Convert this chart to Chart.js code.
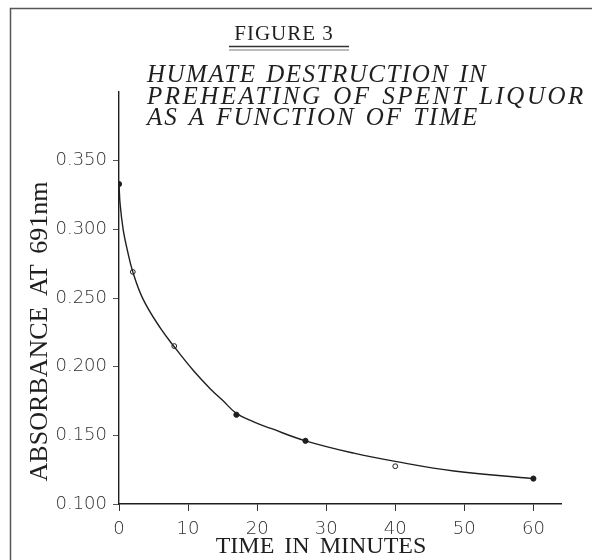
<!DOCTYPE html>
<html>
<head>
<meta charset="utf-8">
<script src="https://cdn.jsdelivr.net/npm/chart.js@4/dist/chart.umd.min.js"></script>
<style>
  html, body { margin: 0; padding: 0; background: #fff; }
  #wrap { width: 592px; height: 560px; position: relative; }
</style>
</head>
<body>
<div id="wrap"><canvas id="c"></canvas></div>
<script>
// ---- data ----
const figureLabel = 'FIGURE 3';
const titleLines = ['HUMATE DESTRUCTION IN', 'PREHEATING OF SPENT LIQUOR', 'AS A FUNCTION OF TIME'];
const xTitle = 'TIME IN MINUTES';
const yTitle = 'ABSORBANCE AT 691nm';

const xTickValues = [0, 10, 20, 30, 40, 50, 60];
const yTickValues = [0.100, 0.150, 0.200, 0.250, 0.300, 0.350];

// measured points (filled markers)
const filledTime = [0, 17, 27, 60];
const filledAbs  = [0.333, 0.165, 0.146, 0.1185];
// measured points (open markers)
const openTime = [2, 8, 40];
const openAbs  = [0.269, 0.215, 0.1275];

// fitted curve
const curveTime = [0, 0.15, 0.6, 1.2, 2, 3.5, 6, 8, 10.8, 13.2, 15, 17, 19.5, 22, 27, 34, 40, 48.5, 60];
const curveAbs  = [0.333, 0.319, 0.300, 0.285, 0.269, 0.249, 0.228, 0.2145, 0.197, 0.184, 0.1755, 0.166, 0.1598, 0.155, 0.146, 0.137, 0.131, 0.124, 0.1185];

const toXY = (xs, ys) => xs.map((x, i) => ({ x: x, y: ys[i] }));

const INK = '#1f1f1f';

const decorPlugin = {
  id: 'decor',
  beforeDraw(chart) {
    const ctx = chart.ctx;
    ctx.save();
    ctx.fillStyle = '#fff';
    ctx.fillRect(0, 0, chart.width, chart.height);
    ctx.restore();
  },
  afterDraw(chart) {
    const ctx = chart.ctx;
    ctx.save();
    // page frame
    ctx.strokeStyle = '#555';
    ctx.lineWidth = 1.5;
    ctx.beginPath();
    ctx.moveTo(10.5, 560);
    ctx.lineTo(10.5, 8.5);
    ctx.lineTo(592, 8.5);
    ctx.stroke();

    ctx.fillStyle = INK;
    // FIGURE 3
    ctx.font = '21px "Liberation Serif"';
    ctx.letterSpacing = '1px';
    ctx.textAlign = 'center';
    ctx.textBaseline = 'alphabetic';
    ctx.fillText(figureLabel, 284, 40);
    // double underline
    ctx.strokeStyle = '#333';
    ctx.lineWidth = 1.3;
    ctx.beginPath();
    ctx.moveTo(229, 46.5); ctx.lineTo(349, 46.5);
    ctx.stroke();
    ctx.lineWidth = 0.9;
    ctx.strokeStyle = '#666';
    ctx.beginPath();
    ctx.moveTo(229, 50); ctx.lineTo(349, 50);
    ctx.stroke();

    // italic title
    ctx.font = 'italic 25px "Liberation Serif"';
    try { ctx.wordSpacing = '2px'; } catch (e) {}
    ctx.textAlign = 'left';
    const baselines = [82, 103.5, 125];
    const spacings = ['1.5px', '2.5px', '1.95px'];
    titleLines.forEach((t, i) => {
      ctx.letterSpacing = spacings[i];
      ctx.fillText(t, 147, baselines[i]);
    });
    try { ctx.wordSpacing = '0px'; } catch (e) {}

    // x axis title
    ctx.font = '24px "Liberation Serif"';
    ctx.letterSpacing = '0px';
    try { ctx.wordSpacing = '4px'; } catch (e) {}
    ctx.textAlign = 'center';
    ctx.fillText(xTitle, 321, 553);

    // y axis title
    ctx.save();
    ctx.translate(47, 331.5);
    ctx.rotate(-Math.PI / 2);
    ctx.font = '26px "Liberation Serif"';
    ctx.textAlign = 'center';
    ctx.fillText(yTitle, 0, 0);
    ctx.restore();
    try { ctx.wordSpacing = '0px'; } catch (e) {}
    ctx.restore();
  }
};

const tickFont = { family: '"DejaVu Sans", sans-serif', size: 18, weight: '300' };

new Chart(document.getElementById('c'), {
  type: 'scatter',
  data: {
    datasets: [
      {
        type: 'line',
        data: toXY(curveTime, curveAbs),
        borderColor: INK,
        borderWidth: 1.4,
        pointRadius: 0,
        fill: false,
        tension: 0.4
      },
      {
        data: toXY(filledTime, filledAbs),
        pointRadius: 2.6,
        pointBackgroundColor: INK,
        pointBorderColor: INK,
        pointBorderWidth: 1
      },
      {
        data: toXY(openTime, openAbs),
        pointRadius: 2.4,
        pointBackgroundColor: '#fff',
        pointBorderColor: INK,
        pointBorderWidth: 1
      }
    ]
  },
  options: {
    responsive: true,
    maintainAspectRatio: false,
    animation: false,
    layout: { padding: { top: 92, right: 31, left: 0, bottom: 0 } },
    plugins: {
      legend: { display: false },
      tooltip: { enabled: false },
      title: { display: false }
    },
    scales: {
      x: {
        type: 'linear',
        min: 0,
        max: 64,
        afterBuildTicks: (s) => { s.ticks = xTickValues.map(v => ({ value: v })); },
        afterFit: (s) => { s.height = 56; },
        grid: { drawOnChartArea: false, drawTicks: true, tickLength: 7, color: '#333', lineWidth: 1 },
        border: { display: true, color: INK, width: 1.4 },
        ticks: { color: '#333', font: tickFont, padding: 8, maxRotation: 0, callback: (v) => String(v) }
      },
      y: {
        type: 'linear',
        min: 0.1,
        max: 0.4,
        afterBuildTicks: (s) => { s.ticks = yTickValues.map(v => ({ value: v })); },
        afterFit: (s) => { s.width = 119; },
        grid: { drawOnChartArea: false, drawTicks: true, tickLength: 6, color: '#555', lineWidth: 1 },
        border: { display: true, color: INK, width: 1.4 },
        ticks: { color: '#333', font: tickFont, padding: 6, callback: (v) => Number(v).toFixed(3) }
      }
    }
  },
  plugins: [decorPlugin]
});
</script>
</body>
</html>
